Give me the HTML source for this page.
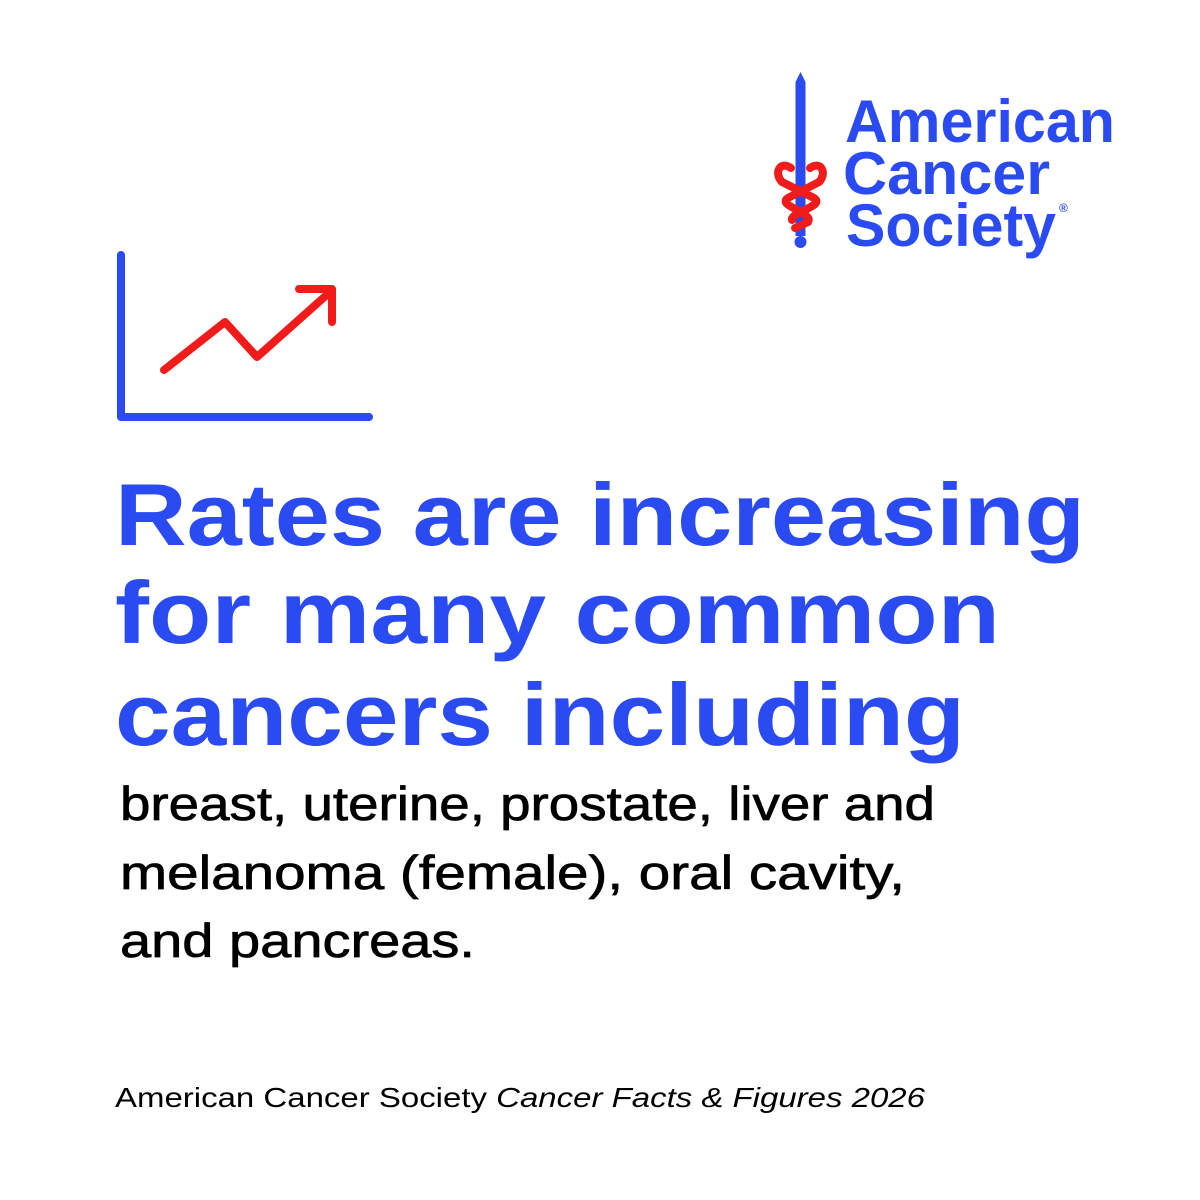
<!DOCTYPE html>
<html><head><style>body{margin:0;background:#fff}</style></head><body>
<svg width="1200" height="1200" viewBox="0 0 1200 1200" xmlns="http://www.w3.org/2000/svg" style="display:block">
<rect width="1200" height="1200" fill="#fff"/>
<!-- logo sword -->
<path d="M800.5 72 L805.5 82 L805.5 236 L795.5 236 L795.5 82 Z" fill="#2b4bf2"/>
<circle cx="800.5" cy="242" r="6" fill="#2b4bf2"/>
<g fill="none" stroke="#f01c1c" stroke-width="8" stroke-linecap="round">
<path d="M791 168 C779 160 774 174 782 182 L814 198 C826 206 790 212 792 220"/>
<path d="M810 168 C822 160 827 174 819 182 L788 198 C776 206 814 212 808 222 L795 228"/>
</g>
<g font-family="Liberation Sans, sans-serif" font-weight="bold" fill="#2b4bf2">
<text x="845" y="142" font-size="60" textLength="270" lengthAdjust="spacingAndGlyphs">American</text>
<text x="843" y="194" font-size="60" textLength="207" lengthAdjust="spacingAndGlyphs">Cancer</text>
<text x="846" y="246" font-size="60" textLength="210" lengthAdjust="spacingAndGlyphs">Society</text>
<text x="1059" y="212" font-size="12">®</text>
</g>
<!-- chart icon -->
<path d="M121 255 L121 417 L369 417" fill="none" stroke="#2b4bf2" stroke-width="8" stroke-linecap="round" stroke-linejoin="round"/>
<path d="M164 370 L225 322 L257 357 L330 292" fill="none" stroke="#f01c1c" stroke-width="8" stroke-linecap="round" stroke-linejoin="round"/>
<path d="M299 289 L332 289 L332 322" fill="none" stroke="#f01c1c" stroke-width="8" stroke-linecap="round" stroke-linejoin="round"/>
<!-- headline -->
<g font-family="Liberation Sans, sans-serif" font-weight="bold" fill="#2b4bf2" font-size="88">
<text x="115" y="545" textLength="970" lengthAdjust="spacingAndGlyphs">Rates are increasing</text>
<text x="115" y="643" textLength="885" lengthAdjust="spacingAndGlyphs">for many common</text>
<text x="115" y="745" textLength="850" lengthAdjust="spacingAndGlyphs">cancers including</text>
</g>
<g font-family="Liberation Sans, sans-serif" fill="#000" stroke="#000" stroke-width="0.7" font-size="47">
<text x="120" y="820" textLength="815" lengthAdjust="spacingAndGlyphs">breast, uterine, prostate, liver and</text>
<text x="120" y="889" textLength="785" lengthAdjust="spacingAndGlyphs">melanoma (female), oral cavity,</text>
<text x="120" y="957" textLength="355" lengthAdjust="spacingAndGlyphs">and pancreas.</text>
</g>
<text x="115" y="1107" font-family="Liberation Sans, sans-serif" font-size="28" fill="#000" textLength="810" lengthAdjust="spacingAndGlyphs">American Cancer Society <tspan font-style="italic">Cancer Facts &amp; Figures 2026</tspan></text>
</svg>
</body></html>
